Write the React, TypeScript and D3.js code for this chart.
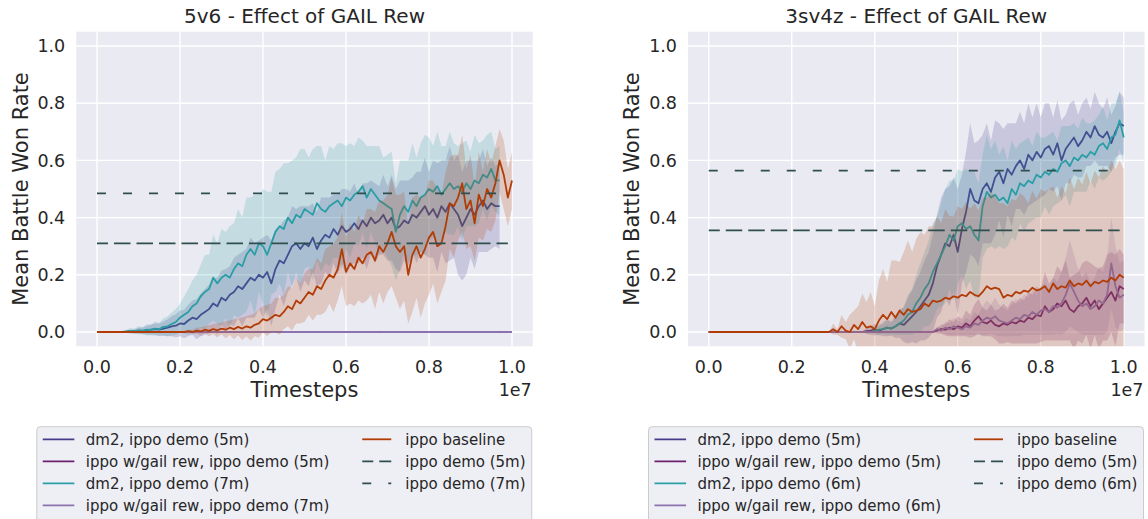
import React from 'react';
import * as d3 from 'd3';

// x grid of the runs: 0 .. 1e7 every 1e5 steps
const timesteps = d3.range(0, 101).map((i) => i * 1e5);

const xTicks = [0, 0.2e7, 0.4e7, 0.6e7, 0.8e7, 1e7];
const xTickLabels = ['0.0', '0.2', '0.4', '0.6', '0.8', '1.0'];
const yTicks = [0, 0.2, 0.4, 0.6, 0.8, 1.0];
const yTickLabels = ['0.0', '0.2', '0.4', '0.6', '0.8', '1.0'];

// ---------- 5v6 ----------
const dm2_5m_5v6 = [
  0, 0, 0, 0, 0, 0, 0, 0, 0.003, 0.002, 0.005, 0.004, 0.006, 0.008, 0.01, 0.008, 0.012, 0.015, 0.02, 0.022,
  0.03, 0.028, 0.04, 0.05, 0.045, 0.06, 0.07, 0.08, 0.1, 0.09, 0.12, 0.11, 0.13, 0.14, 0.16, 0.15, 0.17, 0.19, 0.18, 0.2,
  0.19, 0.21, 0.17, 0.22, 0.25, 0.24, 0.27, 0.3, 0.31, 0.29, 0.31, 0.3, 0.33, 0.29, 0.32, 0.34, 0.33, 0.36, 0.34, 0.37,
  0.35, 0.36, 0.38, 0.36, 0.39, 0.37, 0.4, 0.38, 0.39, 0.41, 0.38, 0.4, 0.36, 0.37, 0.39, 0.38, 0.41, 0.4, 0.42, 0.44,
  0.41, 0.43, 0.4, 0.44, 0.42, 0.45, 0.43, 0.41, 0.37, 0.4, 0.43, 0.41, 0.44, 0.46, 0.43, 0.45, 0.44, 0.44,
];
const dm2_5m_5v6_sd = [
  0, 0, 0, 0, 0, 0, 0, 0, 0.005, 0.008, 0.01, 0.012, 0.015, 0.018, 0.02, 0.022, 0.025, 0.03, 0.035, 0.04,
  0.045, 0.05, 0.055, 0.06, 0.07, 0.075, 0.08, 0.085, 0.09, 0.1, 0.095, 0.11, 0.1, 0.12, 0.11, 0.13, 0.12, 0.14, 0.13, 0.12,
  0.14, 0.13, 0.15, 0.14, 0.12, 0.15, 0.13, 0.14, 0.12, 0.15, 0.13, 0.14, 0.12, 0.13, 0.15, 0.13, 0.14, 0.12, 0.14, 0.13,
  0.15, 0.13, 0.14, 0.12, 0.13, 0.15, 0.13, 0.14, 0.12, 0.14, 0.13, 0.15, 0.14, 0.16, 0.14, 0.15, 0.13, 0.16, 0.14, 0.17,
  0.15, 0.17, 0.19, 0.16, 0.18, 0.2, 0.17, 0.21, 0.19, 0.2, 0.17, 0.19, 0.16, 0.18, 0.15, 0.16, 0.14, 0.15,
];
const gail_5m_5v6 = [
  0, 0, 0, 0, 0, 0, 0, 0, 0, 0, 0, 0, 0, 0, 0, 0, 0, 0, 0, 0,
  0, 0, 0, 0, 0, 0, 0, 0, 0, 0, 0, 0, 0, 0, 0, 0, 0, 0, 0, 0,
  0, 0, 0, 0, 0, 0, 0, 0, 0, 0, 0, 0, 0, 0, 0, 0, 0, 0, 0, 0,
  0, 0, 0, 0, 0, 0, 0, 0, 0, 0, 0, 0, 0, 0, 0, 0, 0, 0, 0, 0,
  0, 0, 0, 0, 0, 0, 0, 0, 0, 0, 0, 0, 0, 0, 0, 0, 0, 0, 0, 0, 0,
];
const gail_5m_5v6_sd = [
  0, 0, 0, 0, 0, 0, 0, 0, 0, 0, 0, 0, 0, 0, 0, 0, 0, 0, 0, 0,
  0, 0, 0, 0, 0, 0, 0, 0, 0, 0, 0, 0, 0, 0, 0, 0, 0, 0, 0, 0,
  0, 0, 0, 0, 0, 0, 0, 0, 0, 0, 0, 0, 0, 0, 0, 0, 0, 0, 0, 0,
  0, 0, 0, 0, 0, 0, 0, 0, 0.004, 0, 0, 0, 0, 0, 0, 0, 0, 0, 0, 0,
  0, 0, 0, 0, 0, 0, 0, 0, 0, 0, 0, 0, 0, 0, 0, 0, 0, 0.004, 0, 0, 0,
];
const dm2_7m_5v6 = [
  0, 0, 0, 0, 0, 0, 0, 0.002, 0.004, 0.003, 0.006, 0.005, 0.008, 0.007, 0.012, 0.01, 0.018, 0.02, 0.028, 0.035,
  0.05, 0.06, 0.07, 0.09, 0.1, 0.125, 0.14, 0.15, 0.19, 0.17, 0.19, 0.2, 0.19, 0.22, 0.24, 0.23, 0.27, 0.29, 0.27, 0.31,
  0.3, 0.27, 0.31, 0.35, 0.37, 0.36, 0.4, 0.38, 0.41, 0.4, 0.43, 0.42, 0.41, 0.45, 0.43, 0.42, 0.44, 0.45, 0.46, 0.44,
  0.47, 0.46, 0.48, 0.49, 0.51, 0.47, 0.5, 0.48, 0.46, 0.45, 0.44, 0.43, 0.35, 0.41, 0.44, 0.42, 0.46, 0.44, 0.47, 0.48,
  0.5, 0.49, 0.51, 0.48, 0.5, 0.52, 0.5, 0.51, 0.49, 0.52, 0.5, 0.53, 0.52, 0.55, 0.54, 0.57, 0.53, 0.53,
];
const dm2_7m_5v6_sd = [
  0, 0, 0, 0, 0, 0, 0, 0.005, 0.01, 0.008, 0.015, 0.012, 0.02, 0.018, 0.025, 0.022, 0.03, 0.035, 0.04, 0.045,
  0.05, 0.065, 0.08, 0.09, 0.1, 0.11, 0.13, 0.12, 0.15, 0.14, 0.17, 0.15, 0.18, 0.16, 0.19, 0.17, 0.2, 0.18, 0.21, 0.17,
  0.2, 0.22, 0.18, 0.21, 0.2, 0.23, 0.19, 0.22, 0.2, 0.24, 0.21, 0.19, 0.23, 0.2, 0.22, 0.18, 0.21, 0.19, 0.2, 0.22,
  0.18, 0.2, 0.17, 0.19, 0.16, 0.18, 0.15, 0.17, 0.19, 0.16, 0.18, 0.2, 0.17, 0.19, 0.16, 0.18, 0.2, 0.17, 0.19, 0.21,
  0.18, 0.16, 0.19, 0.17, 0.15, 0.18, 0.16, 0.14, 0.17, 0.15, 0.13, 0.16, 0.14, 0.12, 0.15, 0.13, 0.11, 0.12,
];
const gail_7m_5v6 = gail_5m_5v6.slice();
const gail_7m_5v6_sd = gail_5m_5v6_sd.slice();
const baseline_5v6 = [
  0, 0, 0, 0, 0, 0, 0, 0, 0, 0, 0, 0, 0, 0, 0, 0, 0, 0, 0, 0,
  0, 0, 0.003, 0, 0.005, 0.002, 0.008, 0.004, 0.01, 0.006, 0.012, 0.008, 0.015, 0.01, 0.018, 0.012, 0.02, 0.015, 0.025, 0.03,
  0.045, 0.04, 0.05, 0.06, 0.055, 0.07, 0.09, 0.08, 0.11, 0.1, 0.12, 0.14, 0.13, 0.16, 0.15, 0.18, 0.2, 0.19, 0.22, 0.29,
  0.21, 0.24, 0.22, 0.26, 0.24, 0.27, 0.28, 0.25, 0.3, 0.28, 0.31, 0.35, 0.3, 0.28, 0.3, 0.2, 0.27, 0.3, 0.26, 0.29,
  0.33, 0.35, 0.3, 0.31, 0.37, 0.45, 0.44, 0.47, 0.52, 0.43, 0.46, 0.38, 0.48, 0.44, 0.5, 0.47, 0.52, 0.6, 0.55, 0.47, 0.53,
];
const baseline_5v6_sd = [
  0, 0, 0, 0, 0, 0, 0, 0, 0, 0, 0, 0, 0, 0, 0, 0, 0, 0, 0, 0,
  0, 0, 0.005, 0.008, 0.01, 0.015, 0.012, 0.02, 0.018, 0.025, 0.02, 0.03, 0.025, 0.035, 0.03, 0.04, 0.035, 0.045, 0.04, 0.05,
  0.045, 0.055, 0.05, 0.06, 0.065, 0.06, 0.07, 0.075, 0.08, 0.07, 0.085, 0.08, 0.09, 0.1, 0.09, 0.11, 0.1, 0.12, 0.11, 0.13,
  0.12, 0.14, 0.13, 0.15, 0.14, 0.16, 0.15, 0.17, 0.16, 0.18, 0.17, 0.19, 0.18, 0.2, 0.19, 0.17, 0.2, 0.18, 0.21, 0.19,
  0.2, 0.18, 0.2, 0.17, 0.19, 0.16, 0.18, 0.15, 0.17, 0.14, 0.16, 0.13, 0.15, 0.12, 0.14, 0.12, 0.13, 0.11, 0.12, 0.1, 0.1,
];
const demo5m_5v6 = 0.31;
const demo7m_5v6 = 0.485;

// ---------- 3sv4z ----------
const dm2_5m_3sv4z = [
  0, 0, 0, 0, 0, 0, 0, 0, 0, 0, 0, 0, 0, 0, 0, 0, 0, 0, 0, 0,
  0, 0, 0, 0, 0, 0, 0, 0, 0, 0, 0, 0, 0, 0, 0, 0, 0, 0, 0.003, 0.005,
  0.008, 0.005, 0.01, 0.015, 0.012, 0.02, 0.03, 0.025, 0.04, 0.055, 0.07, 0.09, 0.11, 0.13, 0.17, 0.23, 0.27, 0.31, 0.3, 0.34,
  0.28, 0.36, 0.42, 0.5, 0.46, 0.45, 0.5, 0.52, 0.49, 0.54, 0.56, 0.52, 0.57, 0.55, 0.58, 0.6, 0.57, 0.62, 0.6, 0.63,
  0.61, 0.64, 0.65, 0.62, 0.66, 0.6, 0.64, 0.66, 0.68, 0.65, 0.67, 0.7, 0.68, 0.72, 0.69, 0.68, 0.7, 0.66, 0.7, 0.73, 0.72,
];
const dm2_5m_3sv4z_sd = [
  0, 0, 0, 0, 0, 0, 0, 0, 0, 0, 0, 0, 0, 0, 0, 0, 0, 0, 0, 0,
  0, 0, 0, 0, 0, 0, 0, 0, 0, 0, 0, 0, 0, 0, 0, 0, 0, 0, 0.01, 0.015,
  0.02, 0.015, 0.025, 0.03, 0.025, 0.04, 0.05, 0.06, 0.08, 0.09, 0.11, 0.12, 0.14, 0.15, 0.17, 0.18, 0.2, 0.19, 0.21, 0.2,
  0.22, 0.19, 0.21, 0.23, 0.2, 0.22, 0.19, 0.21, 0.18, 0.2, 0.17, 0.19, 0.16, 0.18, 0.15, 0.17, 0.16, 0.18, 0.15, 0.17,
  0.14, 0.16, 0.15, 0.13, 0.15, 0.14, 0.12, 0.14, 0.13, 0.11, 0.13, 0.12, 0.1, 0.12, 0.11, 0.1, 0.12, 0.1, 0.09, 0.11, 0.1,
];
const gail_5m_3sv4z = [
  0, 0, 0, 0, 0, 0, 0, 0, 0, 0, 0, 0, 0, 0, 0, 0, 0, 0, 0, 0,
  0, 0, 0, 0, 0, 0, 0, 0, 0, 0, 0, 0, 0, 0, 0, 0, 0, 0, 0, 0,
  0, 0, 0, 0, 0, 0, 0, 0, 0, 0, 0, 0, 0, 0, 0, 0.005, 0.01, 0.008, 0.015, 0.01,
  0.02, 0.015, 0.03, 0.02, 0.04, 0.055, 0.035, 0.03, 0.04, 0.025, 0.02, 0.03, 0.025, 0.035, 0.03, 0.04, 0.035, 0.05, 0.045, 0.06,
  0.055, 0.09, 0.07, 0.08, 0.1, 0.09, 0.11, 0.08, 0.07, 0.09, 0.1, 0.12, 0.09, 0.11, 0.08, 0.1, 0.12, 0.14, 0.11, 0.16, 0.15,
];
const gail_5m_3sv4z_sd = [
  0, 0, 0, 0, 0, 0, 0, 0, 0, 0, 0, 0, 0, 0, 0, 0, 0, 0, 0, 0,
  0, 0, 0, 0, 0, 0, 0, 0, 0, 0, 0, 0, 0, 0, 0, 0, 0, 0, 0, 0,
  0, 0, 0, 0, 0, 0, 0, 0, 0, 0, 0, 0, 0, 0, 0, 0.01, 0.015, 0.02, 0.03, 0.025,
  0.035, 0.03, 0.045, 0.04, 0.055, 0.06, 0.05, 0.045, 0.055, 0.05, 0.06, 0.07, 0.06, 0.075, 0.07, 0.08, 0.075, 0.09, 0.085, 0.1,
  0.09, 0.12, 0.1, 0.11, 0.13, 0.12, 0.14, 0.11, 0.13, 0.12, 0.14, 0.13, 0.15, 0.12, 0.14, 0.13, 0.15, 0.14, 0.16, 0.13, 0.12,
];
const dm2_6m_3sv4z = [
  0, 0, 0, 0, 0, 0, 0, 0, 0, 0, 0, 0, 0, 0, 0, 0, 0, 0, 0, 0,
  0, 0, 0, 0, 0, 0, 0, 0, 0, 0, 0, 0, 0, 0, 0, 0, 0, 0, 0, 0,
  0.005, 0.008, 0.01, 0.015, 0.012, 0.02, 0.03, 0.04, 0.06, 0.07, 0.1, 0.12, 0.15, 0.17, 0.21, 0.24, 0.27, 0.3, 0.34, 0.32,
  0.37, 0.38, 0.36, 0.37, 0.34, 0.32, 0.44, 0.49, 0.47, 0.48, 0.46, 0.47, 0.45, 0.5, 0.48, 0.52, 0.51, 0.53, 0.52, 0.55,
  0.54, 0.56, 0.55, 0.57, 0.56, 0.59, 0.6, 0.58, 0.61, 0.6, 0.62, 0.61, 0.63, 0.62, 0.65, 0.66, 0.64, 0.68, 0.69, 0.74, 0.68,
];
const dm2_6m_3sv4z_sd = [
  0, 0, 0, 0, 0, 0, 0, 0, 0, 0, 0, 0, 0, 0, 0, 0, 0, 0, 0, 0,
  0, 0, 0, 0, 0, 0, 0, 0, 0, 0, 0, 0, 0, 0, 0, 0, 0, 0, 0, 0,
  0.01, 0.02, 0.015, 0.025, 0.02, 0.03, 0.04, 0.05, 0.07, 0.08, 0.1, 0.12, 0.13, 0.15, 0.17, 0.16, 0.18, 0.2, 0.19, 0.21,
  0.2, 0.18, 0.21, 0.19, 0.22, 0.2, 0.18, 0.2, 0.17, 0.19, 0.16, 0.18, 0.15, 0.17, 0.16, 0.14, 0.16, 0.15, 0.13, 0.15,
  0.14, 0.12, 0.14, 0.13, 0.11, 0.13, 0.12, 0.14, 0.12, 0.11, 0.13, 0.12, 0.1, 0.12, 0.11, 0.13, 0.1, 0.12, 0.11, 0.1, 0.09,
];
const gail_6m_3sv4z = [
  0, 0, 0, 0, 0, 0, 0, 0, 0, 0, 0, 0, 0, 0, 0, 0, 0, 0, 0, 0,
  0, 0, 0, 0, 0, 0, 0, 0, 0, 0, 0, 0, 0, 0, 0, 0, 0, 0, 0, 0,
  0, 0, 0, 0, 0, 0, 0, 0, 0, 0, 0, 0, 0, 0, 0, 0.01, 0.005, 0.015, 0.01, 0.02,
  0.015, 0.01, 0.02, 0.015, 0.03, 0.025, 0.04, 0.05, 0.045, 0.055, 0.04, 0.035, 0.03, 0.04, 0.05, 0.045, 0.06, 0.055, 0.07, 0.06,
  0.075, 0.08, 0.07, 0.09, 0.085, 0.1, 0.13, 0.17, 0.14, 0.11, 0.09, 0.1, 0.08, 0.09, 0.11, 0.1, 0.13, 0.24, 0.16, 0.12, 0.13,
];
const gail_6m_3sv4z_sd = [
  0, 0, 0, 0, 0, 0, 0, 0, 0, 0, 0, 0, 0, 0, 0, 0, 0, 0, 0, 0,
  0, 0, 0, 0, 0, 0, 0, 0, 0, 0, 0, 0, 0, 0, 0, 0, 0, 0, 0, 0,
  0, 0, 0, 0, 0, 0, 0, 0, 0, 0, 0, 0, 0, 0, 0, 0.01, 0.01, 0.02, 0.02, 0.03,
  0.025, 0.02, 0.03, 0.025, 0.04, 0.035, 0.05, 0.06, 0.05, 0.065, 0.055, 0.05, 0.045, 0.055, 0.065, 0.06, 0.07, 0.065, 0.08, 0.07,
  0.085, 0.09, 0.08, 0.1, 0.09, 0.11, 0.13, 0.15, 0.13, 0.11, 0.1, 0.11, 0.09, 0.1, 0.12, 0.11, 0.13, 0.16, 0.14, 0.12, 0.12,
];
const baseline_3sv4z = [
  0, 0, 0, 0, 0, 0, 0, 0, 0, 0, 0, 0, 0, 0, 0, 0, 0, 0, 0, 0,
  0, 0, 0, 0, 0, 0, 0, 0, 0, 0, 0.01, 0, 0.02, 0.005, 0, 0.025, 0.01, 0.035, 0.015, 0.02,
  0.01, 0.04, 0.06, 0.045, 0.07, 0.05, 0.075, 0.06, 0.08, 0.07, 0.075, 0.08, 0.1, 0.09, 0.11, 0.105, 0.11, 0.12, 0.115, 0.125,
  0.12, 0.13, 0.125, 0.14, 0.13, 0.125, 0.14, 0.16, 0.15, 0.155, 0.15, 0.12, 0.13, 0.125, 0.14, 0.135, 0.145, 0.14, 0.155, 0.145,
  0.15, 0.16, 0.14, 0.17, 0.15, 0.16, 0.155, 0.18, 0.16, 0.17, 0.165, 0.18, 0.16, 0.175, 0.17, 0.18, 0.175, 0.19, 0.18, 0.2, 0.19,
];
const baseline_3sv4z_sd = [
  0, 0, 0, 0, 0, 0, 0, 0, 0, 0, 0, 0, 0, 0, 0, 0, 0, 0, 0, 0,
  0, 0, 0, 0, 0, 0, 0, 0, 0, 0, 0.02, 0.01, 0.04, 0.03, 0.06, 0.05, 0.08, 0.1, 0.09, 0.12,
  0.08, 0.14, 0.16, 0.13, 0.18, 0.2, 0.17, 0.22, 0.24, 0.21, 0.25, 0.27, 0.24, 0.28, 0.26, 0.3, 0.27, 0.31, 0.29, 0.28,
  0.32, 0.3, 0.33, 0.29, 0.32, 0.3, 0.33, 0.31, 0.34, 0.32, 0.3, 0.33, 0.31, 0.34, 0.32, 0.35, 0.33, 0.31, 0.34, 0.32,
  0.35, 0.33, 0.36, 0.34, 0.32, 0.35, 0.33, 0.36, 0.34, 0.37, 0.35, 0.38, 0.36, 0.39, 0.37, 0.4, 0.38, 0.41, 0.39, 0.4, 0.38,
];
const demo5m_3sv4z = 0.355;
const demo6m_3sv4z = 0.564;

const demoEnd = 9.9e6;

const colors = {
  dm2a: '#483d8b',
  gailA: '#6c1f6e',
  dm2b: '#2b9ea6',
  gailB: '#8d72b0',
  baseline: '#b23c06',
  demo: '#2f4f4f',
};

const panels = [
  {
    title: '5v6 - Effect of GAIL Rew',
    left: 76.25,
    series: [
      { label: 'dm2, ippo demo (5m)', color: colors.dm2a, mean: dm2_5m_5v6, sd: dm2_5m_5v6_sd },
      { label: 'ippo w/gail rew, ippo demo (5m)', color: colors.gailA, mean: gail_5m_5v6, sd: gail_5m_5v6_sd },
      { label: 'dm2, ippo demo (7m)', color: colors.dm2b, mean: dm2_7m_5v6, sd: dm2_7m_5v6_sd },
      { label: 'ippo w/gail rew, ippo demo (7m)', color: colors.gailB, mean: gail_7m_5v6, sd: gail_7m_5v6_sd },
      { label: 'ippo baseline', color: colors.baseline, mean: baseline_5v6, sd: baseline_5v6_sd },
    ],
    demos: [
      { label: 'ippo demo (5m)', value: demo5m_5v6, dash: '16.5,6', offset: 5.5 },
      { label: 'ippo demo (7m)', value: demo7m_5v6, dash: '9,17', offset: 0 },
    ],
  },
  {
    title: '3sv4z - Effect of GAIL Rew',
    left: 688,
    series: [
      { label: 'dm2, ippo demo (5m)', color: colors.dm2a, mean: dm2_5m_3sv4z, sd: dm2_5m_3sv4z_sd },
      { label: 'ippo w/gail rew, ippo demo (5m)', color: colors.gailA, mean: gail_5m_3sv4z, sd: gail_5m_3sv4z_sd },
      { label: 'dm2, ippo demo (6m)', color: colors.dm2b, mean: dm2_6m_3sv4z, sd: dm2_6m_3sv4z_sd },
      { label: 'ippo w/gail rew, ippo demo (6m)', color: colors.gailB, mean: gail_6m_3sv4z, sd: gail_6m_3sv4z_sd },
      { label: 'ippo baseline', color: colors.baseline, mean: baseline_3sv4z, sd: baseline_3sv4z_sd },
    ],
    demos: [
      { label: 'ippo demo (5m)', value: demo5m_3sv4z, dash: '16.5,6', offset: 5.5 },
      { label: 'ippo demo (6m)', value: demo6m_3sv4z, dash: '9,17', offset: 0 },
    ],
  },
];

const FONT = 'DejaVu Sans, sans-serif';
const TEXT = '#262626';
const AX_W = 456.5;
const AX_TOP = 31.7;
const AX_BOTTOM = 346.3;

function Panel({ p, idx }) {
  const x = d3.scaleLinear().domain([-0.05e7, 1.05e7]).range([p.left, p.left + AX_W]);
  const y = d3.scaleLinear().domain([-0.05, 1.05]).range([AX_BOTTOM, AX_TOP]);
  const right = p.left + AX_W;
  const cx = p.left + AX_W / 2;
  const clipId = `clip-${idx}`;

  const line = d3
    .line<number>()
    .x((_, i) => x(timesteps[i]))
    .y((d) => y(d));

  // legend geometry (relative to axes left)
  const lgLeft = p.left - 39.5;
  const lgTop = 426.7;
  const rowY = (r) => 439.3 + r * 22;
  const col1 = [
    ...p.series.slice(0, 4).map((s) => ({ ...s, kind: 'line' })),
  ];
  const col2 = [
    { ...p.series[4], kind: 'line' },
    ...p.demos.map((d) => ({ ...d, color: colors.demo, kind: 'dash' })),
  ];

  return (
    <g>
      <rect x={p.left} y={AX_TOP} width={AX_W} height={AX_BOTTOM - AX_TOP} fill="#eaeaf2" />
      <clipPath id={clipId}>
        <rect x={p.left} y={AX_TOP} width={AX_W} height={AX_BOTTOM - AX_TOP} />
      </clipPath>
      {/* grid */}
      {xTicks.map((t) => (
        <line key={'gx' + t} x1={x(t)} x2={x(t)} y1={AX_TOP} y2={AX_BOTTOM} stroke="#fff" strokeWidth={1.4} />
      ))}
      {yTicks.map((t) => (
        <line key={'gy' + t} x1={p.left} x2={right} y1={y(t)} y2={y(t)} stroke="#fff" strokeWidth={1.4} />
      ))}
      <g clipPath={`url(#${clipId})`}>
        {p.series.map((s, si) => {
          const area = d3
            .area<number>()
            .x((_, i) => x(timesteps[i]))
            .y0((d, i) => y(d - s.sd[i]))
            .y1((d, i) => y(d + s.sd[i]));
          return (
            <g key={si}>
              <path d={line(s.mean)} fill="none" stroke={s.color} strokeWidth={1.8} strokeLinejoin="round" />
              <path d={area(s.mean)} fill={s.color} fillOpacity={0.2} stroke="none" />
            </g>
          );
        })}
        {p.demos.map((d, di) => (
          <line
            key={'d' + di}
            x1={x(0)}
            x2={x(demoEnd)}
            y1={y(d.value)}
            y2={y(d.value)}
            stroke={colors.demo}
            strokeWidth={1.8}
            strokeDasharray={d.dash}
            strokeDashoffset={d.offset}
          />
        ))}
      </g>
      {/* tick labels */}
      {yTicks.map((t, i) => (
        <text key={'yl' + t} x={p.left - 11} y={y(t)} dy="0.35em" textAnchor="end" fontSize={17.5} fill={TEXT} fontFamily={FONT}>
          {yTickLabels[i]}
        </text>
      ))}
      {xTicks.map((t, i) => (
        <text key={'xl' + t} x={x(t)} y={366.5} dy="0.35em" textAnchor="middle" fontSize={17.5} fill={TEXT} fontFamily={FONT}>
          {xTickLabels[i]}
        </text>
      ))}
      <text x={right - 1} y={390} dy="0.35em" textAnchor="end" fontSize={17.5} fill={TEXT} fontFamily={FONT}>
        1e7
      </text>
      <text x={cx} y={390} dy="0.35em" textAnchor="middle" fontSize={21} fill={TEXT} fontFamily={FONT}>
        Timesteps
      </text>
      <text
        transform={`translate(${p.left - 56},${(AX_TOP + AX_BOTTOM) / 2}) rotate(-90)`}
        dy="0.35em"
        textAnchor="middle"
        fontSize={21}
        fill={TEXT}
        fontFamily={FONT}
      >
        Mean Battle Won Rate
      </text>
      <text x={cx} y={23} textAnchor="middle" fontSize={20} fill={TEXT} fontFamily={FONT}>
        {p.title}
      </text>
      {/* legend */}
      <rect x={lgLeft} y={lgTop} width={495} height={110} rx={3.5} fill="#eeeef5" stroke="#cccccc" strokeWidth={1} />
      {col1.map((s, r) => (
        <g key={'l1' + r}>
          <line x1={lgLeft + 6} x2={lgLeft + 37.6} y1={rowY(r)} y2={rowY(r)} stroke={s.color} strokeWidth={1.8} />
          <text x={lgLeft + 49} y={rowY(r)} dy="0.35em" fontSize={15} fill={TEXT} fontFamily={FONT}>
            {s.label}
          </text>
        </g>
      ))}
      {col2.map((s, r) => (
        <g key={'l2' + r}>
          <line
            x1={lgLeft + 325.5}
            x2={lgLeft + 354.5}
            y1={rowY(r)}
            y2={rowY(r)}
            stroke={s.color}
            strokeWidth={1.8}
            strokeDasharray={s.kind === 'dash' ? s.dash : undefined}
            strokeDashoffset={s.kind === 'dash' ? s.offset : undefined}
          />
          <text x={lgLeft + 368.5} y={rowY(r)} dy="0.35em" fontSize={15} fill={TEXT} fontFamily={FONT}>
            {s.label}
          </text>
        </g>
      ))}
    </g>
  );
}

export default function App() {
  return (
    <svg
      width={1148}
      height={519}
      viewBox="0 0 1148 519"
      style={{ position: 'absolute', left: 0, top: 0, background: '#fff' }}
    >
      {panels.map((p, i) => (
        <Panel key={i} p={p} idx={i} />
      ))}
    </svg>
  );
}
